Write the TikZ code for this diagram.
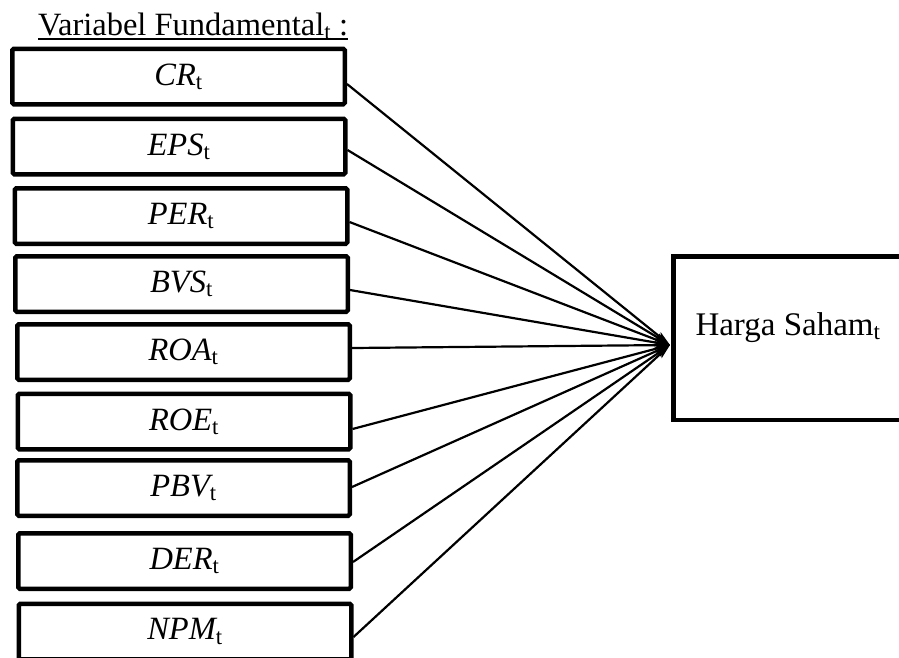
\documentclass[tikz,border=0pt]{standalone}
\usepackage{fontspec}
\setmainfont{Liberation Serif}
\usetikzlibrary{arrows.meta}
\newcommand{\vlab}[1]{{\itshape #1}\textsubscript{t}}
\begin{document}
\begin{tikzpicture}[x=1pt,y=-1pt,
  varbox/.style={draw=black,line width=4.5pt,rounded corners=1.5pt,
    minimum width=332.5pt,minimum height=55.5pt,inner sep=0pt,
    font=\fontsize{32.5}{36}\selectfont},
  conn/.style={line width=2.2pt,-{Stealth[length=15pt,width=8pt,inset=3pt]}},
  resbox/.style={draw=black,line width=4.5pt,inner sep=0pt}]
\useasboundingbox (0,0) rectangle (899,657);
\fill[white] (0,0) rectangle (899,657);
% title
\node[anchor=base west,inner sep=0pt,font=\fontsize{32.5}{36}\selectfont] (title) at (38,35)
  {Variabel Fundamental\textsubscript{t} :};
\draw[line width=1.5pt] ([yshift=-4pt]title.base west) -- ([yshift=-4pt]title.base east);
% variable boxes
\node[varbox] (cr)  at (178.5,76.5) {\vlab{CR}};
\node[varbox] (eps) at (179,146.5)  {\vlab{EPS}};
\node[varbox] (per) at (181,216)    {\vlab{PER}};
\node[varbox] (bvs) at (181.5,284)  {\vlab{BVS}};
\node[varbox] (roa) at (183.5,352)  {\vlab{ROA}};
\node[varbox] (roe) at (184,421.5)  {\vlab{ROE}};
\node[varbox] (pbv) at (183.5,488)  {\vlab{PBV}};
\node[varbox] (der) at (184.5,561)  {\vlab{DER}};
\node[varbox] (npm) at (185,631.5)  {\vlab{NPM}};
% result box
\draw[line width=4.5pt] (910,256.25) -- (673.25,256.25) -- (673.25,419.75) -- (910,419.75);
\node[inner sep=0pt,font=\fontsize{33}{36}\selectfont,anchor=base] (harga) at (788,335)
  {Harga Saham\textsubscript{t}};
\coordinate (tip) at (670,345);
% connectors
\draw[conn] ([yshift=-7.5pt]cr.east) -- (tip);
\draw[conn] ([yshift=-3.5pt]eps.east) -- (tip);
\draw[conn] ([yshift=-6pt]per.east) -- (tip);
\draw[conn] ([yshift=-6pt]bvs.east) -- (tip);
\draw[conn] ([yshift=4pt]roa.east) -- (tip);
\draw[conn] ([yshift=-7.5pt]roe.east) -- (tip);
\draw[conn] ([yshift=1pt]pbv.east) -- (tip);
\draw[conn] ([yshift=-1pt]der.east) -- (tip);
\draw[conn] ([yshift=-5.5pt]npm.east) -- (tip);
\end{tikzpicture}
\end{document}
